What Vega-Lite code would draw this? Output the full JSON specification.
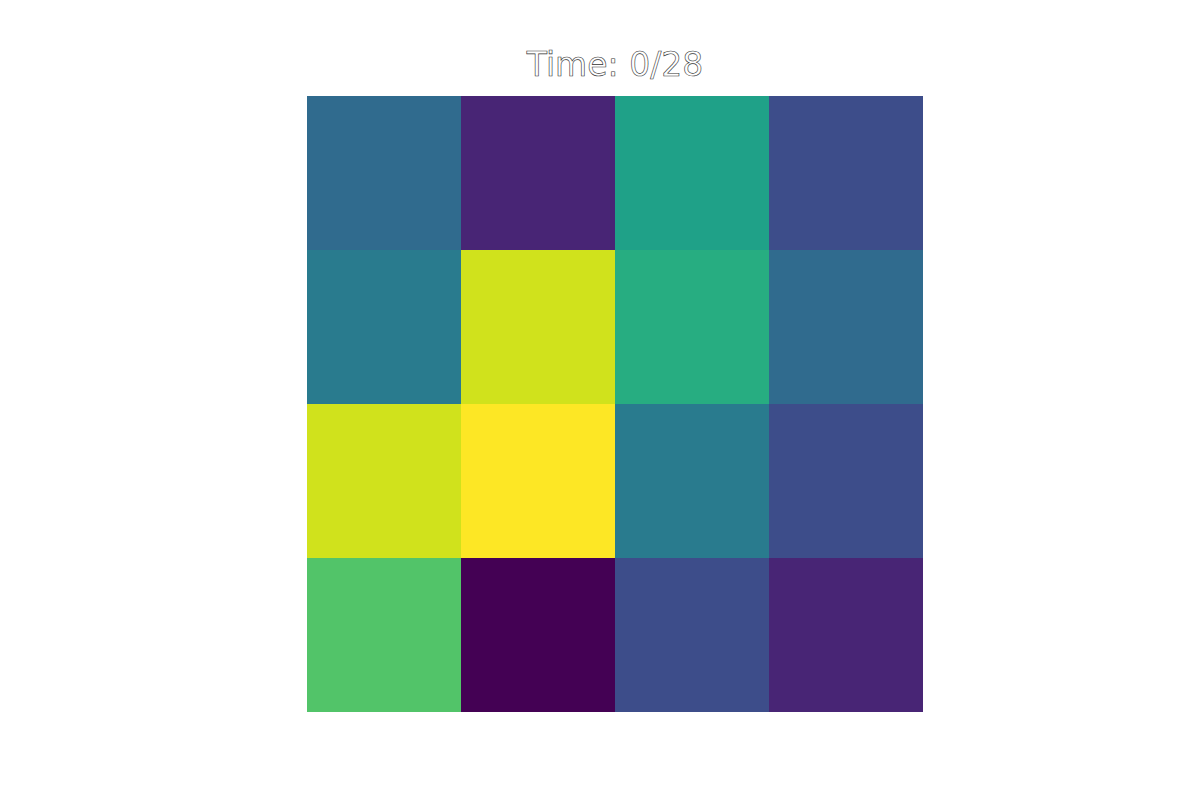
{
  "$schema": "https://vega.github.io/schema/vega-lite/v6.json",
  "width": 616,
  "height": 616,
  "autosize": "none",
  "padding": {"left": 307, "top": 96, "right": 277, "bottom": 88},
  "background": "white",
  "title": {"text": "Time: 0/28", "font": "DejaVu Sans", "fontSize": 33, "fontWeight": "normal", "anchor": "middle", "color": "white", "style": "outlined", "offset": 14, "baseline": "alphabetic", "dy": 27},
  "data": {"values": [
    {"col": 0, "row": 0, "v": 0.345},
    {"col": 1, "row": 0, "v": 0.1},
    {"col": 2, "row": 0, "v": 0.57},
    {"col": 3, "row": 0, "v": 0.23},
    {"col": 0, "row": 1, "v": 0.41},
    {"col": 1, "row": 1, "v": 0.93},
    {"col": 2, "row": 1, "v": 0.62},
    {"col": 3, "row": 1, "v": 0.345},
    {"col": 0, "row": 2, "v": 0.93},
    {"col": 1, "row": 2, "v": 1.0},
    {"col": 2, "row": 2, "v": 0.41},
    {"col": 3, "row": 2, "v": 0.23},
    {"col": 0, "row": 3, "v": 0.73},
    {"col": 1, "row": 3, "v": 0.0},
    {"col": 2, "row": 3, "v": 0.23},
    {"col": 3, "row": 3, "v": 0.1}
  ]},
  "mark": {"type": "rect", "strokeWidth": 0},
  "encoding": {
    "x": {"field": "col", "type": "ordinal", "axis": null, "scale": {"paddingInner": 0, "paddingOuter": 0}},
    "y": {"field": "row", "type": "ordinal", "axis": null, "scale": {"paddingInner": 0, "paddingOuter": 0}},
    "color": {"field": "v", "type": "quantitative", "legend": null, "scale": {"scheme": "viridis", "domain": [0, 1]}}
  },
  "config": {
    "view": {"stroke": null},
    "style": {"outlined": {"stroke": "#333333", "strokeWidth": 0.6, "fill": "white"}}
  }
}
